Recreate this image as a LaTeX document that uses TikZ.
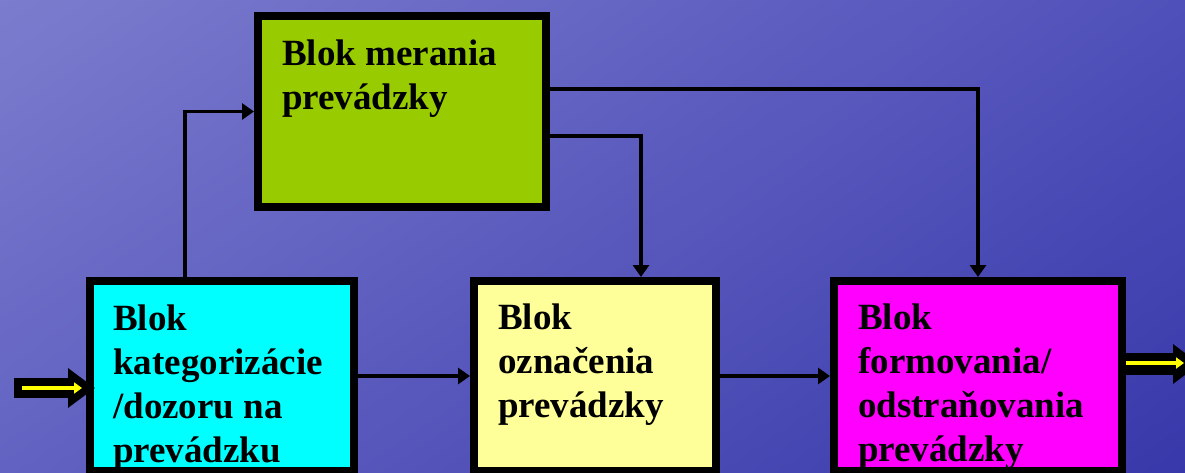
\documentclass[tikz,border=0pt]{standalone}
\usepackage{fontspec}
\setmainfont{Liberation Serif}
\usetikzlibrary{arrows.meta,shadings}
\definecolor{bgUL}{RGB}{124,124,206}
\definecolor{bgUR}{RGB}{80,80,186}
\definecolor{bgLL}{RGB}{98,98,194}
\definecolor{bgLR}{RGB}{56,56,170}
\definecolor{boxCyan}{RGB}{0,255,255}
\definecolor{boxYellow}{RGB}{255,255,153}
\definecolor{boxMagenta}{RGB}{255,0,255}
\definecolor{boxGreen}{RGB}{153,204,0}
\definecolor{arrYellow}{RGB}{255,255,0}
\begin{document}
\begin{tikzpicture}[x=1pt,y=-1pt,
  blockbox/.style={draw=black, line width=8pt, inner sep=0pt, minimum height=190pt},
  blocktext/.style={anchor=base west, inner sep=0pt, font=\fontsize{37}{44}\selectfont\bfseries},
  conn/.style={draw=black, line width=3.8pt, -{Triangle[length=12pt,width=16pt]}},
  bigarrow/.style={draw=black, -{Triangle[length=27pt,width=38pt]}},
  yelarrow/.style={draw=arrYellow, line width=3.5pt, -{Triangle[length=8pt,width=11pt]}}
]
\useasboundingbox (0,0) rectangle (1185,472);
\clip (0,0) rectangle (1185,472);
\shade[upper left=bgUL, upper right=bgUR, lower left=bgLL, lower right=bgLR] (0,0) rectangle (1185,472);

% blocks
\node[blockbox, fill=boxGreen, minimum width=288pt, minimum height=191pt] (green) at (402,111.5) {};
\node[blockbox, fill=boxCyan, minimum width=264pt] (cyan) at (222,376) {};
\node[blockbox, fill=boxYellow, minimum width=242pt] (yellow) at (595,376) {};
\node[blockbox, fill=boxMagenta, minimum width=288pt] (magenta) at (978,376) {};

% texts
\node[blocktext] (tgreen) at (282,65) {\begin{tabular}[t]{@{}l@{}}Blok merania\\prevádzky\end{tabular}};
\node[blocktext] (tcyan) at (113,330) {\begin{tabular}[t]{@{}l@{}}Blok\\kategorizácie\\/dozoru na\\prevádzku\end{tabular}};
\node[blocktext] (tyellow) at (498,329) {\begin{tabular}[t]{@{}l@{}}Blok\\označenia\\prevádzky\end{tabular}};
\node[blocktext] (tmagenta) at (858,329) {\begin{tabular}[t]{@{}l@{}}Blok\\formovania/\\odstraňovania\\prevádzky\end{tabular}};

% connectors
\draw[conn] ([xshift=-37pt]cyan.north) |- (green.west);
\draw[conn] ([yshift=-24.5pt]green.east) -| ([xshift=46pt]yellow.north);
\draw[conn] ([yshift=22.5pt]green.east) -| (magenta.north);
\draw[conn] (cyan.east) -- (yellow.west);
\draw[conn] (yellow.east) -- (magenta.west);

% input arrow
\coordinate (inS) at (14,388);
\coordinate (inY) at (22,388);
\draw[bigarrow, line width=20pt, shorten >=-9pt] (inS) -- (inS -| cyan.west);
\draw[yelarrow] (inY) -- ([xshift=-4pt]inY -| cyan.west);

% output arrow
\coordinate (outE) at (1200,364);
\coordinate (outY) at (1184,363);
\draw[bigarrow, line width=22pt] (magenta.east |- outE) -- (outE);
\draw[yelarrow] (magenta.east |- outY) -- (outY);
\end{tikzpicture}
\end{document}
